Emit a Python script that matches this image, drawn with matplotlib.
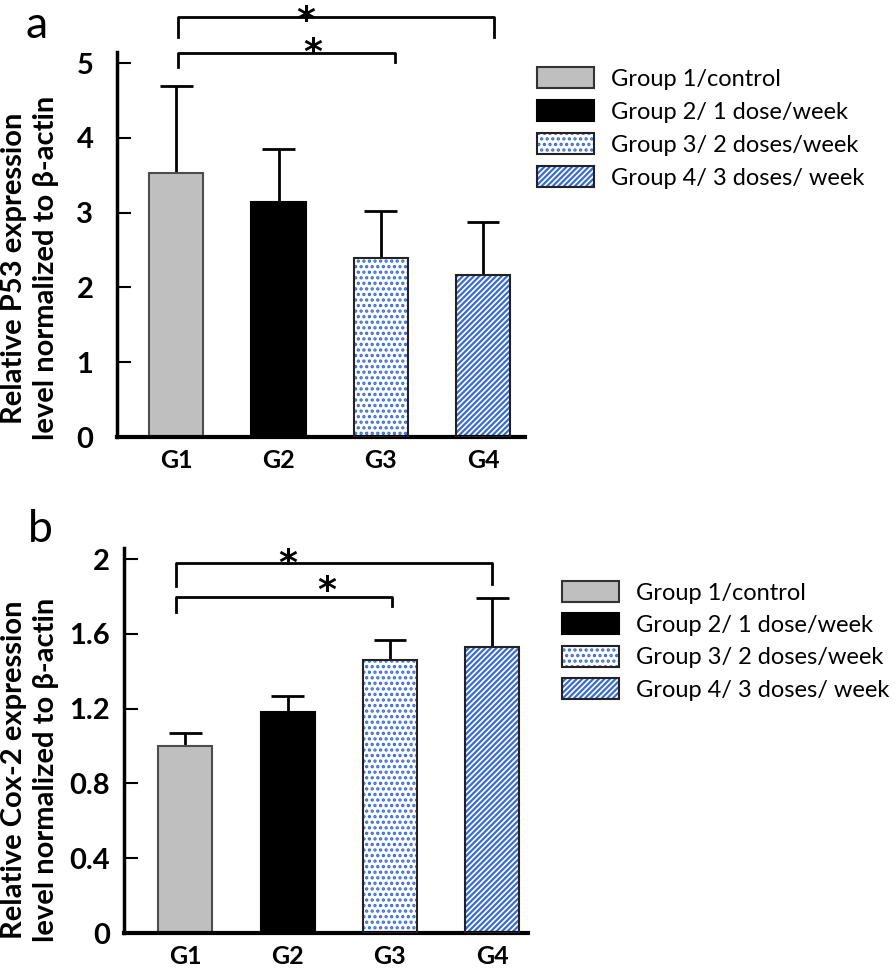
import matplotlib
matplotlib.use("Agg")
import matplotlib.pyplot as plt
from matplotlib.patches import Patch
from matplotlib.legend_handler import HandlerTuple
import numpy as np

plt.rcParams['font.family'] = ['Lato', 'DejaVu Sans']
plt.rcParams['hatch.linewidth'] = 1.6

groups = ["G1", "G2", "G3", "G4"]
legend_labels = ["Group 1/control", "Group 2/ 1 dose/week",
                 "Group 3/ 2 doses/week", "Group 4/ 3 doses/ week"]

# panel a: P53
p53_mean = [3.53, 3.15, 2.40, 2.17]
p53_err = [1.16, 0.70, 0.62, 0.70]
# panel b: Cox-2
cox2_mean = [1.00, 1.18, 1.46, 1.53]
cox2_err = [0.07, 0.09, 0.11, 0.26]

BLUE = "#3a6cd0"


def draw_bars(ax, means, errs):
    x = np.arange(len(means))
    w = 0.53
    ax.bar(x[0], means[0], w, color="#bfbfbf", edgecolor="#4d4d4d", lw=1.5, zorder=2)
    ax.bar(x[1], means[1], w, color="black", edgecolor="black", lw=1.5, zorder=2)
    ax.bar(x[2], means[2], w, color="white", edgecolor=BLUE, hatch="...", lw=0, zorder=2)
    ax.bar(x[3], means[3], w, color="white", edgecolor=BLUE, hatch="//////", lw=0, zorder=2)
    ax.bar(x[2:], means[2:], w, fill=False, edgecolor="#222222", lw=1.5, zorder=3)
    tops = np.array(means) + np.array(errs)
    ax.vlines(x, means, tops, color="black", lw=2, zorder=1)
    ax.hlines(tops, x - 0.16, x + 0.16, color="black", lw=2, zorder=1)


def bracket(ax, x0, x1, y, y0, y1):
    ax.plot([x0, x0, x1, x1], [y0, y, y, y1], color="black", lw=2, clip_on=False)


def star(ax, x, y):
    ax.text(x, y, r"$\mathbf{*}$", fontsize=26, ha="center", va="center", clip_on=False)


def style_axes(ax, ymax, ticks, ticklabels, pad):
    for s in ["top", "right"]:
        ax.spines[s].set_visible(False)
    ax.spines["left"].set_linewidth(2.5)
    ax.spines["bottom"].set_linewidth(3)
    ax.set_ylim(0, ymax)
    ax.set_yticks(ticks)
    ax.set_yticklabels(ticklabels, fontsize=21, fontweight="bold")
    ax.tick_params(axis="y", direction="in", length=10, width=1.5, pad=pad)
    ax.set_xticks(range(4))
    ax.set_xticklabels(groups, fontsize=18, fontweight="bold")
    ax.tick_params(axis="x", length=0, pad=9)


def legend(fig, x, y, spacing):
    h = [
        Patch(facecolor="#bfbfbf", edgecolor="#333333", lw=1.5),
        Patch(facecolor="black", edgecolor="black", lw=1.5),
        (Patch(facecolor="white", edgecolor=BLUE, hatch="...", lw=0),
         Patch(fill=False, edgecolor="#222222", lw=1.5)),
        (Patch(facecolor="white", edgecolor=BLUE, hatch="//////", lw=0),
         Patch(fill=False, edgecolor="#222222", lw=1.5)),
    ]
    fig.legend(h, legend_labels, loc="upper left", bbox_to_anchor=(x, y),
               frameon=False, fontsize=17, handlelength=2.4, handleheight=0.98,
               handletextpad=0.75, labelspacing=spacing, borderaxespad=0, borderpad=0,
               handler_map={tuple: HandlerTuple(ndivide=1, pad=0)})


fig = plt.figure(figsize=(8.96, 9.68), dpi=100)
W, H = 896, 968

# panel a
ax1 = fig.add_axes([117 / W, 1 - 437 / H, (525 - 117) / W, (437 - 52) / H])
draw_bars(ax1, p53_mean, p53_err)
ax1.set_xlim(-0.58, 3.41)
style_axes(ax1, 5.15, [0, 1, 2, 3, 4, 5], ["0", "1", "2", "3", "4", "5"], 17)
bracket(ax1, 0.02, 3.11, 5.62, 5.35, 5.35)
bracket(ax1, 0.02, 2.14, 5.13, 4.95, 5.01)
star(ax1, 1.27, 5.60)
star(ax1, 1.34, 5.17)
fig.text(1 / W, 1 - 268 / H, "Relative P53 expression", rotation=90,
         fontsize=21, fontweight="bold", ha="left", va="center")
fig.text(33 / W, 1 - 268 / H, "level normalized to \u03b2-actin", rotation=90,
         fontsize=21, fontweight="bold", ha="left", va="center")
fig.text(37 / W, 1 - 25 / H, "a", fontsize=32, ha="center", va="center")
legend(fig, 537 / W, 1 - 67 / H, 0.45)

# panel b
ax2 = fig.add_axes([124 / W, 1 - 933 / H, (528 - 124) / W, (933 - 548) / H])
draw_bars(ax2, cox2_mean, cox2_err)
ax2.set_xlim(-0.6, 3.35)
style_axes(ax2, 2.06, [0, 0.4, 0.8, 1.2, 1.6, 2.0], ["0", "0.4", "0.8", "1.2", "1.6", "2"], 10)
bracket(ax2, -0.09, 3.0, 1.98, 1.855, 1.865)
bracket(ax2, -0.09, 2.02, 1.80, 1.72, 1.75)
star(ax2, 1.0, 1.99)
star(ax2, 1.39, 1.845)
fig.text(1 / W, 1 - 770 / H, "Relative Cox-2 expression", rotation=90,
         fontsize=21, fontweight="bold", ha="left", va="center")
fig.text(33 / W, 1 - 770 / H, "level normalized to \u03b2-actin", rotation=90,
         fontsize=21, fontweight="bold", ha="left", va="center")
fig.text(40 / W, 1 - 530 / H, "b", fontsize=32, ha="center", va="center")
legend(fig, 562 / W, 1 - 581 / H, 0.42)

fig.savefig("out.png", dpi=100)
